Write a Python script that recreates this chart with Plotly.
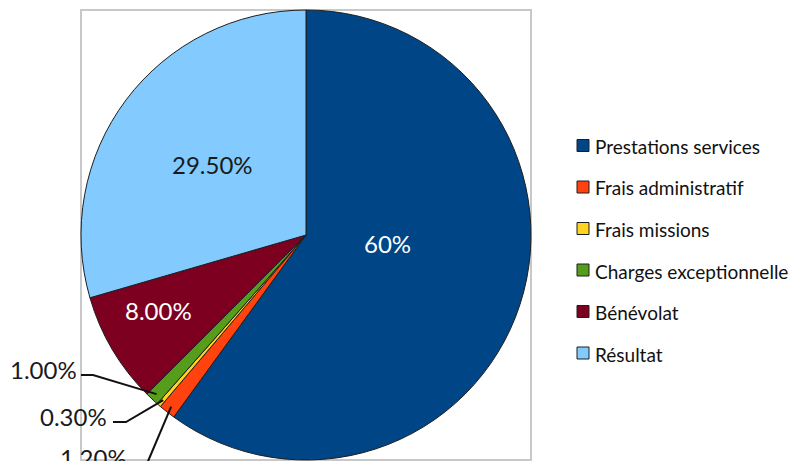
import math
import plotly.graph_objects as go

# ---- data ----
labels = ["Prestations services", "Frais administratif", "Frais missions",
          "Charges exceptionnelle", "Bénévolat", "Résultat"]
values = [60.0, 1.2, 0.3, 1.0, 8.0, 29.5]
value_labels = ["60%", "1.20%", "0.30%", "1.00%", "8.00%", "29.50%"]
colors = ["#004586", "#ff420e", "#ffd320", "#579d1c", "#7e0021", "#83caff"]

# ---- layout constants (pixels, in screenshot coordinates) ----
W, H = 798, 461
OFF = 8                            # default page body margin
BOX = (81, 10, 531, 460)           # left, top, right, bottom of plot area
FONT = "Lato, Carlito, Calibri, sans-serif"

def px(x):
    return (x - OFF) / W

def py(y):
    return 1 - (y - OFF) / H

cx = (BOX[0] + BOX[2]) / 2
cy = (BOX[1] + BOX[3]) / 2
R = (BOX[2] - BOX[0]) / 2

fig = go.Figure()
fig.add_trace(go.Pie(
    labels=labels,
    values=values,
    textinfo="none",
    sort=False,
    direction="clockwise",
    rotation=0,
    marker=dict(colors=colors, line=dict(color="#1e1e1e", width=1)),
    domain=dict(x=[px(BOX[0]), px(BOX[2])], y=[py(BOX[3]), py(BOX[1])]),
    showlegend=False,
    hoverinfo="label+percent",
))

shapes = []
annotations = []

# plot area border
shapes.append(dict(type="rect", xref="paper", yref="paper",
                   x0=px(BOX[0]), x1=px(BOX[2]), y0=py(BOX[3]), y1=py(BOX[1]),
                   line=dict(color="#c8c8c8", width=2), layer="below"))

# slice mid angles (degrees clockwise from 12 o'clock), from the data
total = sum(values)
cum = 0.0
mids = []
for v in values:
    mids.append((cum + v / 2) / total * 360.0)
    cum += v

def polar(angle_deg, frac):
    a = math.radians(angle_deg)
    return cx + frac * R * math.sin(a), cy - frac * R * math.cos(a)

# inside labels: (radius fraction, angle adjustment, colour)
in_style = {
    0: (0.364, -12.7, "white"),
    4: (0.736, 3.9, "white"),
    5: (0.525, 0.4, "#1a1a1a"),
}
for i, (frac, adj, col) in in_style.items():
    x, y = polar(mids[i] + adj, frac)
    annotations.append(dict(xref="paper", yref="paper", x=px(x), y=py(y + 1),
                            xanchor="center", yanchor="middle", showarrow=False,
                            text=value_labels[i],
                            font=dict(family=FONT, size=24, color=col)))

# outside labels with leader lines for the small slices
out_style = {
    3: dict(tx=79, ty=368, path=[(81, 375), (93, 375)]),
    2: dict(tx=109, ty=415, path=[(113, 422), (126, 422)]),
    1: dict(tx=129, ty=456, path=[(146, 466)]),
}
for i, st in out_style.items():
    ex, ey = polar(mids[i], 0.97)
    pts = st["path"] + [(ex, ey)]
    d = "M " + " L ".join(f"{px(x):.5f},{py(y):.5f}" for x, y in pts)
    shapes.append(dict(type="path", xref="paper", yref="paper", path=d,
                       line=dict(color="#111", width=2)))
    annotations.append(dict(xref="paper", yref="paper", x=px(st["tx"]), y=py(st["ty"] + 1),
                            xanchor="right", yanchor="middle", showarrow=False,
                            text=value_labels[i],
                            font=dict(family=FONT, size=24, color="#1a1a1a")))

# legend (manual, for exact spacing)
LEG_X = 577
LEG_Y0 = 145.5
LEG_DY = 41.5
SQ = 12
for k, (lab, col) in enumerate(zip(labels, colors)):
    yc = LEG_Y0 + k * LEG_DY
    shapes.append(dict(type="rect", xref="paper", yref="paper",
                       x0=px(LEG_X), x1=px(LEG_X + SQ),
                       y0=py(yc + SQ / 2), y1=py(yc - SQ / 2),
                       fillcolor=col, line=dict(color="#1e1e1e", width=1)))
    annotations.append(dict(xref="paper", yref="paper", x=px(LEG_X + SQ + 4), y=py(yc + 1),
                            xanchor="left", yanchor="middle", showarrow=False,
                            text=lab, font=dict(family=FONT, size=19, color="#111")))

fig.update_layout(
    width=W, height=H,
    margin=dict(l=0, r=0, t=0, b=0),
    paper_bgcolor="white", plot_bgcolor="white",
    shapes=shapes, annotations=annotations,
    showlegend=False,
)

fig.write_html("out.html")
